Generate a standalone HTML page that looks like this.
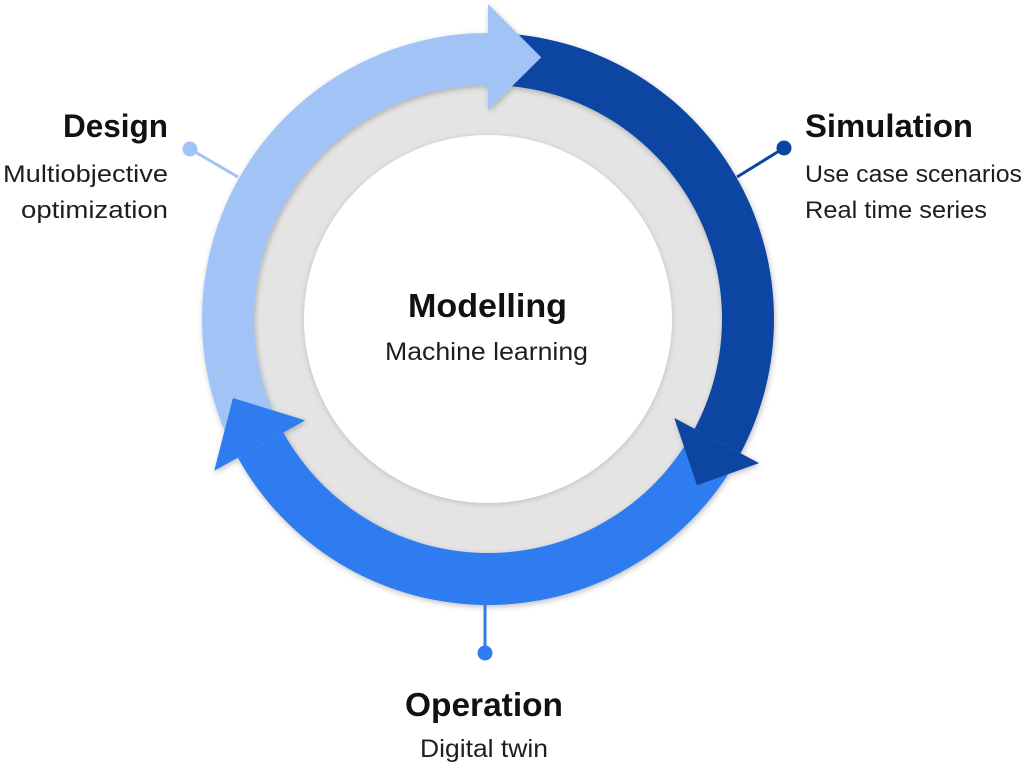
<!DOCTYPE html>
<html>
<head>
<meta charset="utf-8">
<style>
  html, body { margin:0; padding:0; background:#ffffff; }
  body { width:1025px; height:764px; overflow:hidden; }
  svg { display:block; }
  .t { font-family:"Liberation Sans", Arial, sans-serif; font-weight:bold; fill:#111111; }
  .s { font-family:"Liberation Sans", Arial, sans-serif; fill:#1e1e1e; }
</style>
</head>
<body>
<svg width="1025" height="764" viewBox="0 0 1025 764" xmlns="http://www.w3.org/2000/svg">
  <defs>
    <filter id="sh" x="-20%" y="-20%" width="140%" height="140%">
      <feDropShadow dx="1" dy="2" stdDeviation="3" flood-color="#000" flood-opacity="0.25"/>
    </filter>
    <filter id="sh2" x="-20%" y="-20%" width="140%" height="140%">
      <feDropShadow dx="0" dy="1" stdDeviation="3" flood-color="#000" flood-opacity="0.18"/>
    </filter>
  </defs>

  <!-- gray ring -->
  <circle cx="488" cy="319" r="238" fill="#e4e4e4"/>
  <!-- white center -->
  <circle cx="488" cy="319" r="184" fill="#ffffff" filter="url(#sh2)"/>

  <g filter="url(#sh)">
    <!-- light shaft (Design) -->
    <path d="M224.74,430.75 A286,286 0 0 1 488,33 L488,85 A234,234 0 0 0 272.60,410.43 Z" fill="#a2c3f6"/>
    <!-- dark shaft (Simulation) -->
    <path d="M512.93,34.09 A286,286 0 0 1 740.52,453.27 L694.61,428.86 A234,234 0 0 0 508.40,85.89 Z" fill="#0b45a2"/>
    <!-- medium shaft (Operation) -->
    <path d="M727.86,474.77 A286,286 0 0 1 237.86,457.66 L283.34,432.45 A234,234 0 0 0 684.25,446.45 Z" fill="#2f7cf0"/>

    <!-- heads -->
    <polygon points="488,4 541.23,57.36 488,110" fill="#a2c3f6"/>
    <polygon points="759.07,463.13 696.96,485.21 674.30,418.06" fill="#0b45a2"/>
    <polygon points="214.24,470.75 232.94,397.95 305.20,420.33" fill="#2f7cf0"/>
  </g>

  <!-- connectors -->
  <line x1="190" y1="149" x2="238" y2="177" stroke="#a2c3f6" stroke-width="3"/>
  <circle cx="190" cy="149" r="7.5" fill="#a2c3f6"/>

  <line x1="784" y1="148" x2="737" y2="177" stroke="#0b45a2" stroke-width="3"/>
  <circle cx="784" cy="148" r="7.5" fill="#0b45a2"/>

  <line x1="485" y1="603" x2="485" y2="652" stroke="#2f7cf0" stroke-width="3"/>
  <circle cx="485" cy="653" r="7.5" fill="#2f7cf0"/>

  <!-- Design -->
  <text class="t" x="168" y="137" font-size="32" text-anchor="end" textLength="105" lengthAdjust="spacingAndGlyphs">Design</text>
  <text class="s" x="168" y="182" font-size="24" text-anchor="end" textLength="165" lengthAdjust="spacingAndGlyphs">Multiobjective</text>
  <text class="s" x="168" y="218" font-size="24" text-anchor="end" textLength="147" lengthAdjust="spacingAndGlyphs">optimization</text>

  <!-- Simulation -->
  <text class="t" x="805" y="137" font-size="32" textLength="168" lengthAdjust="spacingAndGlyphs">Simulation</text>
  <text class="s" x="805" y="182" font-size="24" textLength="217" lengthAdjust="spacingAndGlyphs">Use case scenarios</text>
  <text class="s" x="805" y="218" font-size="24" textLength="182" lengthAdjust="spacingAndGlyphs">Real time series</text>

  <!-- Modelling -->
  <text class="t" x="408" y="317" font-size="33" textLength="159" lengthAdjust="spacingAndGlyphs">Modelling</text>
  <text class="s" x="385" y="360" font-size="25" textLength="203" lengthAdjust="spacingAndGlyphs">Machine learning</text>

  <!-- Operation -->
  <text class="t" x="405" y="716" font-size="33" textLength="158" lengthAdjust="spacingAndGlyphs">Operation</text>
  <text class="s" x="420" y="757" font-size="25" textLength="128" lengthAdjust="spacingAndGlyphs">Digital twin</text>
</svg>
</body>
</html>
